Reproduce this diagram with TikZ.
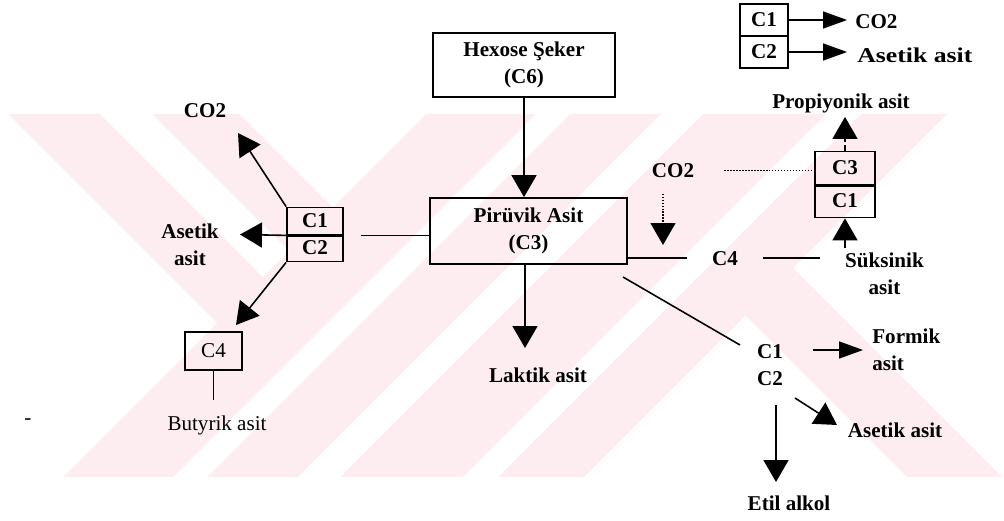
\documentclass[tikz,border=0pt]{standalone}
\usepackage{fontspec}
\setmainfont{Liberation Serif}
\usetikzlibrary{arrows.meta}
\definecolor{wmpink}{RGB}{253,237,241}

\begin{document}
\begin{tikzpicture}[
  x=0.2mm, y=-0.2mm,
  font=\fontsize{12}{15.5}\selectfont,
  box/.style={draw=black, line width=1pt, align=center, inner sep=0pt,
              font=\fontsize{12}{15.5}\selectfont\bfseries},
  cell/.style={draw=black, line width=1pt, inner sep=0pt,
               font=\fontsize{12}{15.5}\selectfont\bfseries},
  lbl/.style={font=\fontsize{12}{15.5}\selectfont\bfseries, align=center, inner sep=0.8mm},
  lblr/.style={lbl, font=\fontsize{12}{15.5}\selectfont},
  wire/.style={draw=black, line width=0.9pt},
  arr/.style={wire, -{Triangle[length=4.4mm,width=5mm]}},
  sarr/.style={wire, -{Triangle[length=4.8mm,width=3.4mm]}},
  dline/.style={draw=black, line width=0.7pt, densely dotted},
]
\useasboundingbox (0,0) rectangle (1004,520);

% ---------- background watermark ----------
\begin{scope}
  \clip (0,114) rectangle (1004,477);
  \fill[wmpink] (-400,114) -- (947,114) -- (584,477) -- (-400,477) -- cycle;
  \fill[wmpink] (544,114) -- (639,114) -- (1002,477) -- (907,477) -- cycle;
  % white cut-outs
  \fill[white] (-300,0) -- (-106,0) -- (217,323) -- (-60,600) -- (-300,600) -- cycle;
  \fill[white] (-14,0) -- (38,0) -- (289,251) -- (263,277) -- cycle;
  \fill[white] (126,0) -- (540,0) -- (333,207) -- cycle;
  \foreach \a/\b in {650/684, 775/817, 940/975}
    \fill[white] (\a,0) -- (\b,0) -- ({\b-600},600) -- ({\a-600},600) -- cycle;
\end{scope}

% ---------- main boxes ----------
\node[box, minimum width=36.4mm, minimum height=12.8mm] (hex) at (524,65) {Hexose Şeker\\(C6)};
\node[box, minimum width=39.4mm, minimum height=13.2mm] (pir) at (528.5,231) {Pirüvik Asit\\(C3)};
\draw[arr] (hex.south) -- (hex.south |- pir.north);

% ---------- legend (top right) ----------
\node[cell, minimum width=9.6mm, minimum height=6.4mm] (gc1) at (764,20) {C1};
\node[cell, minimum width=9.6mm, minimum height=6.4mm] (gc2) at (764,52) {C2};
\node[lbl, anchor=base west, inner xsep=0pt] (gco2) at (855,28) {CO2};
\node[lbl, anchor=base west, inner xsep=0pt] (gaset) at (857,62) {\scalebox{1.22}[1]{Asetik asit}};
\draw[sarr, shorten >=1.6mm] (gc1.east) -- (gc1.east -| gco2.west);
\draw[sarr, shorten >=2mm] (gc2.east) -- (gc2.east -| gaset.west);

% ---------- left branch ----------
\node[cell, minimum width=11.2mm, minimum height=5.4mm] (lc1) at (315,221) {C1};
\node[cell, minimum width=11.2mm, minimum height=5.4mm] (lc2) at (315,248) {C2};
\draw[line width=1.6pt] (lc1.south west) -- (lc1.south east);
\draw[wire, shorten >=3.4mm] (pir.west |- lc1.south east) -- (lc1.south east);

\node[lbl, anchor=base] (co2l) at (205,117) {CO2};
\coordinate (co2ltip) at (238,133);
\draw[arr] (lc1.north west) -- (co2ltip);

\node[lbl] (asetl) at (190,245) {Asetik\\asit};
\coordinate (asltip) at (240,234.5);
\draw[arr] (lc1.south west) -- (asltip);

\node[box, minimum width=11.4mm, minimum height=7.6mm,
      font=\fontsize{12}{15.5}\selectfont] (c4b) at (213.5,351) {C4};
\coordinate (c4tip) at (236,325);
\draw[arr] (lc2.south west) -- (c4tip);
\node[lblr, anchor=base, inner ysep=3mm] (but) at (217,430) {Butyrik asit};
\draw[wire] (c4b.south) -- (c4b.south |- but.north);
\node[lblr] (dash) at (28,422) {-};

% ---------- lactate ----------
\node[lbl, anchor=base] (lak) at (538,382) {Laktik asit};
\coordinate (laktip) at (525,348);
\draw[arr] (pir.south -| laktip) -- (laktip);

% ---------- propionate route ----------
\node[lbl, anchor=base] (co2m) at (673,177) {CO2};
\coordinate (co2mtip) at (663,245);
\draw[arr, line width=0.7pt, densely dotted, shorten <=2.4mm] (co2m.south -| co2mtip) -- (co2mtip);

\node[lbl, anchor=base, inner xsep=5mm] (c4m) at (725,265) {C4};
\node[lbl, inner xsep=5mm, inner ysep=1mm] (suk) at (884.5,274) {Süksinik\\asit};
\draw[wire] (pir.east |- c4m) -- (c4m.west);
\draw[wire] (c4m.east) -- (c4m.east -| suk.west);

\node[cell, minimum width=12mm, minimum height=6.6mm] (rc3) at (845,168) {C3};
\node[cell, minimum width=12mm, minimum height=6.6mm] (rc1) at (845,201) {C1};
\draw[line width=1.6pt] (rc3.south west) -- (rc3.south east);
\draw[arr] (rc1.south |- suk.north) -- (rc1.south);
\draw[dline, shorten <=5.2mm] (co2m.east) -- (co2m.east -| rc3.west);

\node[lbl, anchor=base] (prop) at (841,108) {Propiyonik asit};
\draw[arr, densely dashed] (rc3.north) -- (rc3.north |- prop.south);

% ---------- formate / acetate / ethanol ----------
\node[lbl, inner xsep=6mm] (mc) at (770,365) {C1\\C2};
\coordinate (dg1) at (623,277);
\coordinate (dg2) at (740,345);
\draw[wire] (dg1) -- (dg2);

\node[lbl, align=left, anchor=west, inner xsep=0pt] (form) at (872,350) {Formik\\asit};
\draw[sarr, shorten >=1.8mm] (mc.east |- form.west) -- (form.west);

\node[lbl, anchor=base] (asetr) at (895,437) {Asetik asit};
\coordinate (asr1) at (795,398);
\coordinate (asr2) at (837,425);
\draw[arr] (asr1) -- (asr2);

\node[lbl, anchor=base] (etil) at (789,510) {Etil alkol};
\coordinate (et1) at (776,405);
\coordinate (et2) at (776,482);
\draw[arr] (et1) -- (et2);

\end{tikzpicture}
\end{document}
